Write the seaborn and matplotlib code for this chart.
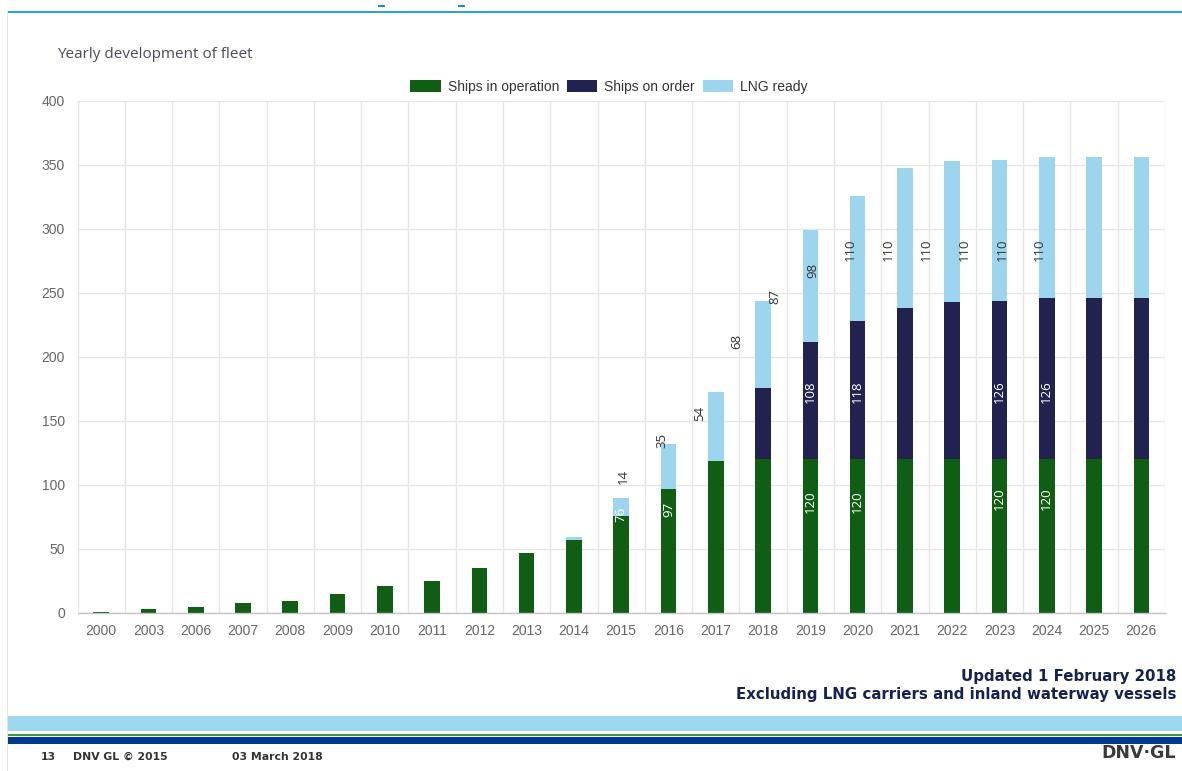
import matplotlib
matplotlib.use("Agg")
import matplotlib.pyplot as plt
from matplotlib.patches import Patch, Rectangle
import numpy as np
import pandas as pd
import seaborn as sns

# ---------------- data ----------------
years = ["2000", "2003", "2006", "2007", "2008", "2009", "2010", "2011", "2012",
         "2013", "2014", "2015", "2016", "2017", "2018", "2019", "2020", "2021",
         "2022", "2023", "2024", "2025", "2026"]
in_operation = [1, 3, 5, 8, 9, 15, 21, 25, 35, 47, 57, 76, 97, 119, 120, 120,
                120, 120, 120, 120, 120, 120, 120]
on_order = [0, 0, 0, 0, 0, 0, 0, 0, 0, 0, 0, 0, 0, 0, 56, 92,
            108, 118, 123, 124, 126, 126, 126]
lng_ready = [0, 0, 0, 0, 0, 0, 0, 0, 0, 0, 2, 14, 35, 54, 68, 87,
             98, 110, 110, 110, 110, 110, 110]
series_names = ["Ships in operation", "Ships on order", "LNG ready"]
title = "Yearly development of fleet"
y_ticks = [0, 50, 100, 150, 200, 250, 300, 350, 400]

# data labels as they appear (misplaced) in the source chart
lng_label_src = [11, 12, 13, 14, 15, 16, 17, 18, 19, 20, 21, 22]   # which bar's value
lng_label_y = [107, 135, 156, 212, 247, 268, 284, 284, 284, 284, 284, 284]
order_label_bar = [15, 16, 19, 20]
order_label_src = [16, 17, 20, 21]
order_label_y = [173, 173, 173, 173]
op_label_bar = [11, 12, 15, 16, 19, 20]
op_label_y = [77, 81, 87, 87, 89, 89]

# ---------------- style ----------------
c_op, c_order, c_lng = "#0f5e14", "#21224f", "#9dd5ee"
W, H = 1182, 771

sns.set_style("white")
plt.rcParams["font.family"] = ["Liberation Sans", "DejaVu Sans"]

df = pd.DataFrame({"year": years, "op": in_operation, "order": on_order, "lng": lng_ready})
df["op_order"] = df["op"] + df["order"]
df["total"] = df["op_order"] + df["lng"]

fig = plt.figure(figsize=(W / 100, H / 100), dpi=100)
ax_l, ax_r, ax_t, ax_b = 77.5, 1165, 101, 613
ax = fig.add_axes([ax_l / W, 1 - ax_b / H, (ax_r - ax_l) / W, (ax_b - ax_t) / H])

bw = 0.33
sns.barplot(data=df, x="year", y="total", order=years, color=c_lng, width=bw,
            saturation=1, errorbar=None, linewidth=0, ax=ax)
sns.barplot(data=df, x="year", y="op_order", order=years, color=c_order, width=bw,
            saturation=1, errorbar=None, linewidth=0, ax=ax)
sns.barplot(data=df, x="year", y="op", order=years, color=c_op, width=bw,
            saturation=1, errorbar=None, linewidth=0, ax=ax)

ax.set_xlim(-0.5, len(years) - 0.5)
ax.set_ylim(0, 400)
ax.set_yticks(y_ticks)
ax.set_xlabel("")
ax.set_ylabel("")
ax.set_xticks(np.arange(-0.5, len(years), 1.0), minor=True)
ax.tick_params(axis="y", length=0, pad=9, labelsize=10, labelcolor="#666666")
ax.tick_params(axis="x", which="major", length=0, pad=8, labelsize=10, labelcolor="#666666")
ax.tick_params(axis="x", which="minor", length=6, width=1, color="#e3e3e3")
ax.set_axisbelow(True)
ax.grid(False)
ax.grid(axis="y", which="major", color="#e6e6e6", lw=1)
ax.grid(axis="x", which="minor", color="#e6e6e6", lw=1)
for s in ["top", "right", "left"]:
    ax.spines[s].set_visible(False)
ax.spines["bottom"].set_color("#c4c4c4")
ax.spines["bottom"].set_linewidth(1)

# data labels
lab_font = dict(family=["Open Sans", "DejaVu Sans"], fontsize=9.5, rotation=90,
                ha="center", va="center")
for k, (src, yy) in enumerate(zip(lng_label_src, lng_label_y)):
    ax.text(11.05 + 0.8 * k, yy, str(lng_ready[src]), color="#333333", **lab_font)
for b, src, yy in zip(order_label_bar, order_label_src, order_label_y):
    ax.text(b, yy, str(on_order[src]), color="white", **lab_font)
for b, yy in zip(op_label_bar, op_label_y):
    ax.text(b, yy, str(in_operation[b]), color="white", **lab_font)

# legend
handles = [Patch(facecolor=c, edgecolor="none") for c in (c_op, c_order, c_lng)]
fig.legend(handles, series_names, loc="center", bbox_to_anchor=(609 / W, 1 - 87 / H),
           ncol=3, frameon=False, fontsize=10, handlelength=2.2, handleheight=1.0,
           handletextpad=0.5, columnspacing=0.55, labelcolor="#333333")

# title
fig.text(57 / W, 1 - 54 / H, title, ha="left", va="center", fontsize=11,
         family=["Open Sans", "DejaVu Sans"], color="#4a4a5c")

# page decorations
def px_rect(x0, y0, x1, y1, color):
    fig.add_artist(Rectangle((x0 / W, 1 - y1 / H), (x1 - x0) / W, (y1 - y0) / H,
                             transform=fig.transFigure, facecolor=color,
                             edgecolor="none"))

px_rect(8, 11, W, 13, "#21a6df")
px_rect(7, 11, 8, H, "#e4e4e4")
px_rect(8, 716, W, 731, "#9dd7ef")
px_rect(8, 733.5, W, 736, "#3f9a3c")
px_rect(8, 737, W, 744, "#003a8e")
px_rect(378, 5, 385, 6.5, "#1e88d0")
px_rect(458, 5, 465, 6.5, "#1e88d0")

fig.text(1176 / W, 1 - 677 / H, "Updated 1 February 2018", ha="right", va="center",
         fontsize=10.8, fontweight="bold", family="DejaVu Sans", color="#16234f")
fig.text(1176 / W, 1 - 694 / H, "Excluding LNG carriers and inland waterway vessels",
         ha="right", va="center", fontsize=10.8, fontweight="bold", family="DejaVu Sans",
         color="#16234f")

ft = dict(fontsize=7.8, fontweight="bold", family="DejaVu Sans", color="#333333",
          ha="left", va="center")
fig.text(41 / W, 1 - 757 / H, "13", **ft)
fig.text(73 / W, 1 - 757 / H, "DNV GL © 2015", **ft)
fig.text(232 / W, 1 - 757 / H, "03 March 2018", **ft)
fig.text(1176 / W, 1 - 753 / H, "DNV·GL", ha="right", va="center", fontsize=12.5,
         fontweight="bold", family="DejaVu Sans", color="#3a3a3a")

fig.savefig("out.png", dpi=100)
